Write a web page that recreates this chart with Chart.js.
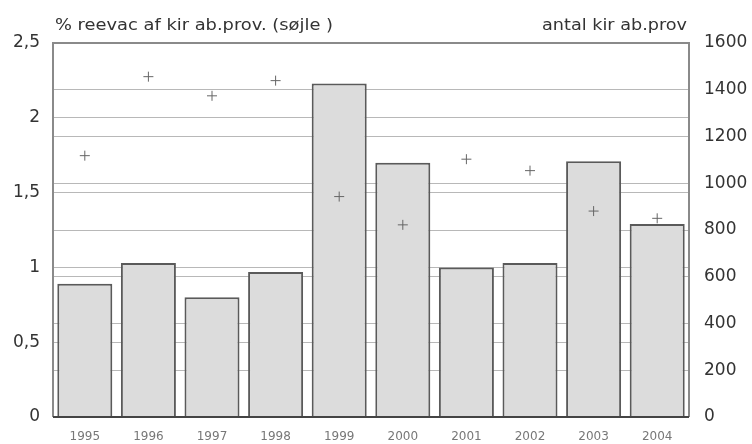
<!DOCTYPE html>
<html>
<head>
<meta charset="utf-8">
<script src="https://cdn.jsdelivr.net/npm/chart.js@4"></script>
<style>
    html, body { margin: 0; padding: 0; background: #fff; }
    #wrap { width: 752px; height: 444px; position: relative; }
</style>
</head>
<body>
<div id="wrap"><canvas id="reevacChart"></canvas></div>
<script>
// Data
const years = ['1995', '1996', '1997', '1998', '1999', '2000', '2001', '2002', '2003', '2004'];
const pctReevac = [0.89, 1.03, 0.80, 0.97, 2.23, 1.70, 1.00, 1.03, 1.71, 1.29];   // søjler, venstre akse
const antalProv = [1118, 1456, 1374, 1439, 943, 822, 1103, 1054, 881, 850];      // kryds, højre akse

const leftTitle = '% reevac af kir ab.prov. (søjle )';
const rightTitle = 'antal kir ab.prov';

const FONT = "'DejaVu Sans', 'Liberation Sans', Arial, sans-serif";

// Tekst strakt vandret til en given bredde (originalen er bredt skaleret)
function stretchedText(ctx, text, x, y, width, align) {
    const w = ctx.measureText(text).width;
    const sx = width / w;
    ctx.save();
    ctx.textAlign = 'left';
    const x0 = align === 'right' ? x - width : x;
    ctx.translate(x0, y);
    ctx.scale(sx, 1);
    ctx.fillText(text, 0, 0);
    ctx.restore();
}

// Ramme og aksetitler tegnes oven på grafen
const frameAndTitles = {
    id: 'frameAndTitles',
    afterDatasetsDraw(chart) {
        const { ctx, chartArea: a } = chart;
        ctx.save();
        ctx.strokeStyle = '#8a8a8a';
        ctx.lineWidth = 2;
        ctx.beginPath();
        ctx.moveTo(a.left, a.bottom);
        ctx.lineTo(a.left, a.top);
        ctx.lineTo(a.right, a.top);
        ctx.lineTo(a.right, a.bottom);
        ctx.stroke();
        ctx.strokeStyle = '#444';
        ctx.beginPath();
        ctx.moveTo(a.left, a.bottom);
        ctx.lineTo(a.right, a.bottom);
        ctx.stroke();
        ctx.restore();
    },
    afterDraw(chart) {
        const { ctx, chartArea: a } = chart;
        ctx.save();
        ctx.fillStyle = '#333';
        ctx.font = '16px ' + FONT;
        ctx.textBaseline = 'alphabetic';
        stretchedText(ctx, leftTitle, a.left + 2, 30, 278, 'left');
        stretchedText(ctx, rightTitle, a.right - 2, 30, 145, 'right');
        ctx.restore();
    }
};

const ctx = document.getElementById('reevacChart').getContext('2d');
new Chart(ctx, {
    type: 'bar',
    data: {
        labels: years,
        datasets: [
            {
                type: 'line',
                label: rightTitle,
                data: antalProv,
                yAxisID: 'y1',
                showLine: false,
                pointStyle: 'cross',
                pointRadius: 5,
                pointBorderWidth: 1,
                pointBorderColor: '#666',
                pointBackgroundColor: '#666',
                order: 0
            },
            {
                type: 'bar',
                label: leftTitle,
                data: pctReevac,
                yAxisID: 'y',
                backgroundColor: '#dcdcdc',
                borderColor: '#5a5a5a',
                borderWidth: 2,
                borderSkipped: 'bottom',
                categoryPercentage: 1,
                barPercentage: 0.865,
                order: 1
            }
        ]
    },
    options: {
        responsive: true,
        maintainAspectRatio: false,
        animation: false,
        layout: { padding: { top: 43, left: 0, right: 0, bottom: 0 } },
        plugins: {
            legend: { display: false },
            tooltip: { enabled: false }
        },
        scales: {
            x: {
                grid: { display: false, drawTicks: false },
                border: { display: false },
                ticks: { color: '#777', font: { family: FONT, size: 12 }, padding: 13, maxRotation: 0 },
                afterFit(scale) { scale.height = 27; }
            },
            y: {
                position: 'left',
                min: 0, max: 2.5,
                grid: { color: '#b8b8b8', lineWidth: 1, drawTicks: false },
                border: { display: false },
                ticks: {
                    stepSize: 0.5,
                    color: '#333',
                    font: { family: FONT, size: 17 },
                    padding: 13,
                    callback: v => String(v).replace('.', ',')
                },
                afterFit(scale) { scale.width = 53; }
            },
            y1: {
                position: 'right',
                min: 0, max: 1600,
                grid: { color: '#b8b8b8', lineWidth: 1, drawTicks: false },
                border: { display: false },
                ticks: {
                    stepSize: 200,
                    color: '#333',
                    font: { family: FONT, size: 17 },
                    padding: 15,
                    callback: v => String(v)
                },
                afterFit(scale) { scale.width = 63; }
            }
        }
    },
    plugins: [frameAndTitles]
});
</script>
</body>
</html>
